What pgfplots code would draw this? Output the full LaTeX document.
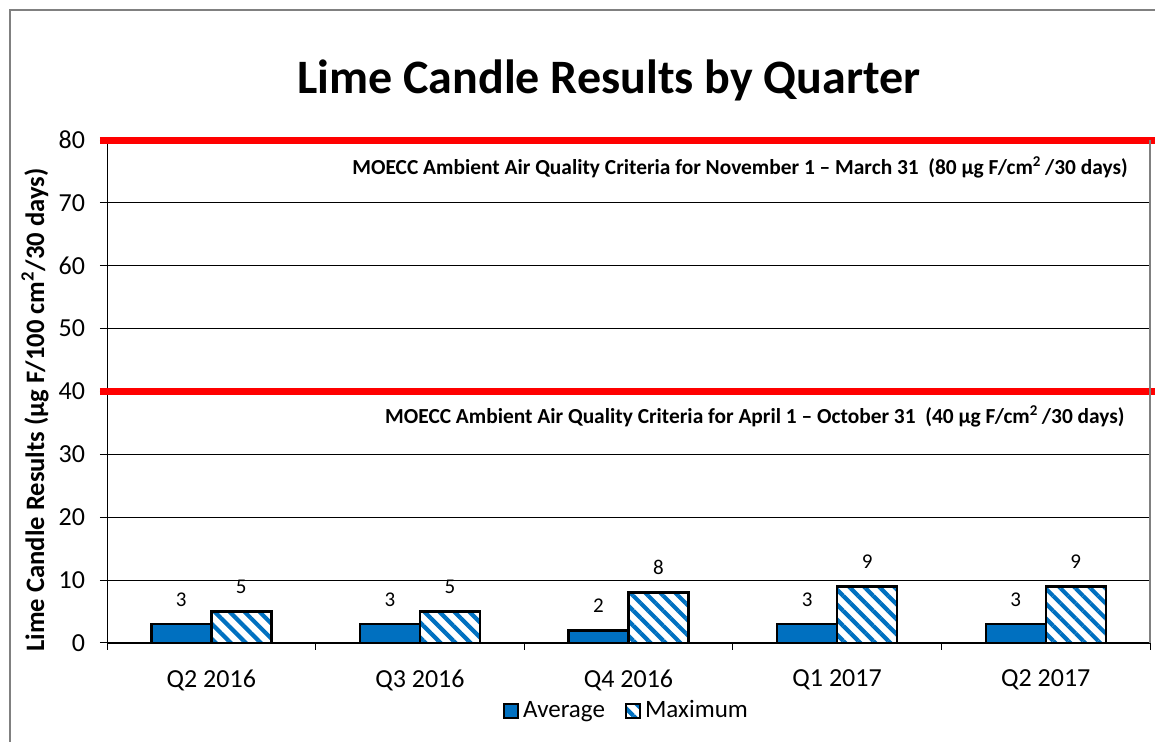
\documentclass[border=0pt]{standalone}
\usepackage{fontspec}
\setmainfont{Carlito}
\usepackage{pgfplots}
\pgfplotsset{compat=1.18}
\usetikzlibrary{patterns.meta}

\definecolor{barblue}{RGB}{0,112,192}
\definecolor{framegray}{RGB}{128,128,128}

\pgfplotsset{
  sqlegend/.style={
    legend image code/.code={
      \draw[##1,line width=0.9pt] (0pt,-3.6pt) rectangle (7.2pt,3.6pt);
    }
  }
}

\begin{document}
\begin{tikzpicture}
\useasboundingbox (0,0) rectangle (577.5pt,371pt);
% outer chart frame (left and top edges visible)
\draw[framegray, line width=0.8pt] (5pt,0pt) -- (5pt,366pt) -- (577.5pt,366pt);

\node[font=\fontsize{24}{28}\selectfont\bfseries] at (304.5pt,331pt) {Lime Candle Results by Quarter};
\node[rotate=90, font=\fontsize{13.3}{16}\selectfont\bfseries] at (17.5pt,166pt)
  {Lime Candle Results (µg F/100 cm\textsuperscript{2}/30 days)};

\begin{axis}[
    at={(53.5pt,49.5pt)}, anchor=south west,
    scale only axis,
    width=521.5pt, height=251.5pt,
    xmin=-0.5, xmax=4.5,
    ymin=0, ymax=80,
    ytick={0,10,...,80},
    ymajorgrids,
    grid style={black, line width=0.4pt},
    axis line style={black, line width=0.5pt},
    tick style={black, line width=0.5pt},
    tick align=outside,
    major tick length=3.5pt,
    xtick pos=bottom, ytick pos=left,
    xtick={-0.5,0.5,...,4.5},
    xticklabels={,,,,,},
    extra x ticks={0,1,2,3,4},
    extra x tick labels={Q2 2016,Q3 2016,Q4 2016,Q1 2017,Q2 2017},
    extra x tick style={major tick length=0pt, grid=none},
    /pgf/number format/assume math mode=true,
    tick label style={font=\fontsize{13}{15}\selectfont},
    xticklabel style={yshift=-10pt},
    yticklabel style={xshift=-4pt},
    ybar, bar width=30pt,
    clip=false,
    nodes near coords,
    every node near coord/.append style={font=\fontsize{10.5}{12}\selectfont, anchor=south, yshift=5pt, black},
    every axis plot post/.append style={sqlegend},
    legend style={draw=none, at={(0.499,-0.135)}, anchor=center,
      legend columns=-1, font=\fontsize{12.5}{15}\selectfont,
      /tikz/every even column/.append style={column sep=8pt},
      inner sep=0pt},
]
\addplot[fill=barblue, draw=black, line width=1.2pt, bar shift=-15pt]
  coordinates {(0,3) (1,3) (2,2) (3,3) (4,3)};
\addlegendentry{Average}
\addplot[pattern={Lines[angle=-45, distance=5.3pt, line width=2.1pt]}, pattern color=barblue,
  draw=black, line width=1.2pt, bar shift=15pt]
  coordinates {(0,5) (1,5) (2,8) (3,9) (4,9)};
\addlegendentry{Maximum}

% criteria lines
\addplot[ybar=none, sharp plot, no marks, red, line width=3.5pt, nodes near coords=, forget plot]
  coordinates {(-0.534,80) (4.55,80)};
\addplot[ybar=none, sharp plot, no marks, red, line width=3.5pt, nodes near coords=, forget plot]
  coordinates {(-0.534,40) (4.55,40)};

\draw[framegray, line width=0.8pt] (rel axis cs:1,0) -- (rel axis cs:1,1);

\node[anchor=east, inner sep=0pt, font=\fontsize{10.7}{12}\selectfont\bfseries] at (axis cs:4.395,75.7)
  {MOECC Ambient Air Quality Criteria for November 1 – March 31\ \ (80 µg F/cm\textsuperscript{2}\,/30 days)};
\node[anchor=east, inner sep=0pt, font=\fontsize{10.7}{12}\selectfont\bfseries] at (axis cs:4.38,36.1)
  {MOECC Ambient Air Quality Criteria for April 1 – October 31\ \ (40 µg F/cm\textsuperscript{2}\,/30 days)};
\end{axis}
\end{tikzpicture}
\end{document}
